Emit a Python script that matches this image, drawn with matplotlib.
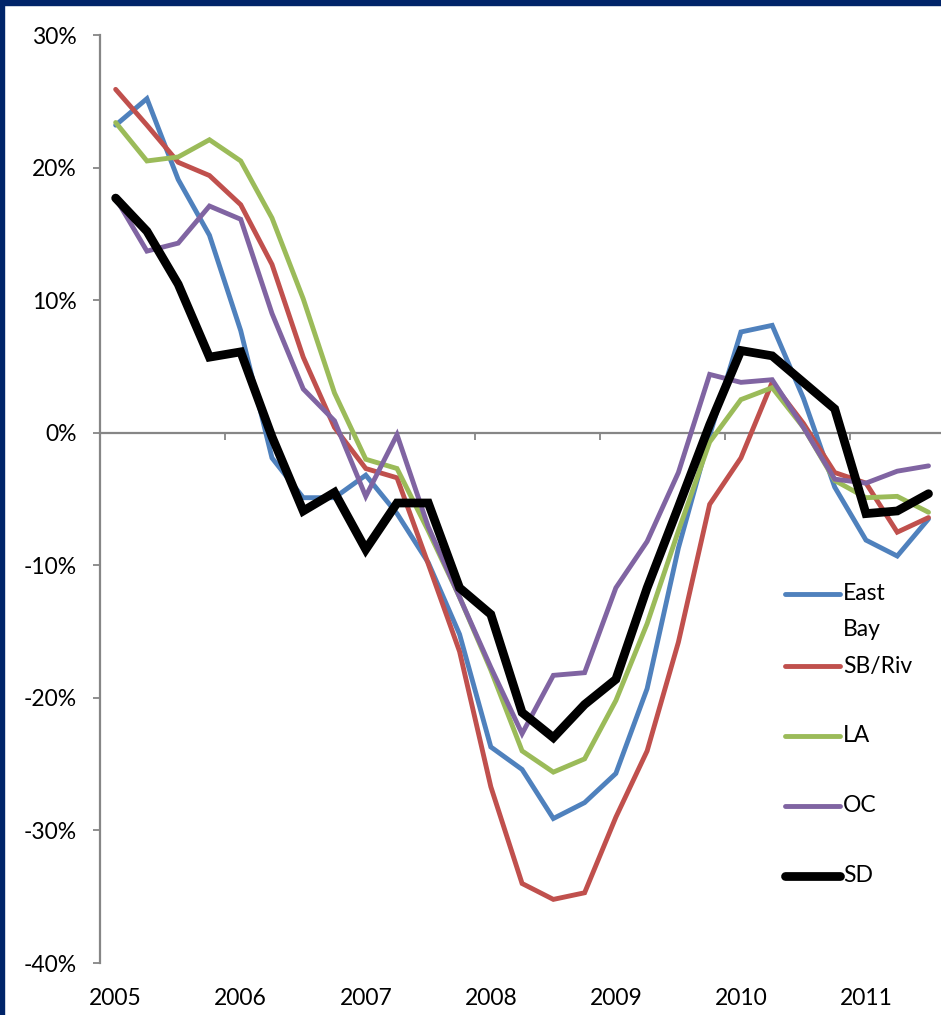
import matplotlib.pyplot as plt
from matplotlib.patches import Rectangle
from matplotlib.lines import Line2D
import matplotlib.transforms as mtransforms

plt.rcParams['font.family'] = ['Lato', 'DejaVu Sans']

# quarterly year-over-year price change, 2005 Q1 .. 2011 Q3 (percent)
years = ['2005', '2006', '2007', '2008', '2009', '2010', '2011']
east_bay = [23.2, 25.2, 19.1, 14.9, 7.7, -1.9, -4.9, -4.9, -3.2, -6.1, -9.8, -15.2, -23.7, -25.4,
            -29.1, -27.9, -25.7, -19.3, -8.7, -0.2, 7.6, 8.1, 2.6, -4.1, -8.1, -9.3, -6.5]
sb_riv = [25.9, 23.2, 20.4, 19.4, 17.2, 12.7, 5.7, 0.4, -2.7, -3.4, -9.9, -16.5, -26.7, -34.0,
          -35.2, -34.7, -29.0, -24.0, -15.8, -5.4, -1.9, 3.8, 0.7, -3.0, -3.8, -7.5, -6.4]
la = [23.4, 20.5, 20.8, 22.1, 20.5, 16.2, 10.1, 3.0, -2.0, -2.7, -7.4, -12.4, -17.9, -24.0,
      -25.6, -24.6, -20.2, -14.4, -7.4, -0.7, 2.5, 3.4, 0.4, -3.6, -4.9, -4.8, -6.0]
oc = [17.7, 13.7, 14.3, 17.1, 16.1, 9.0, 3.3, 0.9, -4.8, -0.15, -7.1, -12.4, -17.7, -22.7,
      -18.3, -18.1, -11.7, -8.2, -3.0, 4.4, 3.8, 4.0, 0.4, -3.5, -3.8, -2.9, -2.5]
sd = [17.7, 15.2, 11.2, 5.7, 6.1, -0.3, -5.9, -4.5, -8.8, -5.3, -5.3, -11.7, -13.7, -21.1,
      -23.0, -20.5, -18.6, -11.7, -5.6, 0.6, 6.2, 5.8, 3.8, 1.8, -6.1, -5.9, -4.6]
y_ticks = [30, 20, 10, 0, -10, -20, -30, -40]

W, H = 941, 1015
fig = plt.figure(figsize=(W / 100, H / 100), dpi=100)
ax = fig.add_axes([0.1063, 0.0512, 0.8937, 0.9143])

x = list(range(len(sd)))
series = [
    ('East\nBay', east_bay, '#4F81BD', 3.5),
    ('SB/Riv', sb_riv, '#C0504D', 3.5),
    ('LA', la, '#9BBB59', 3.5),
    ('OC', oc, '#8064A2', 3.5),
    ('SD', sd, '#000000', 6.3),
]
for name, vals, color, lw in series:
    ax.plot(x, vals, color=color, lw=lw, solid_capstyle='round',
            solid_joinstyle='miter', zorder=3)

ax.set_xlim(-0.5, 26.4)
ax.set_ylim(-40, 30)

grey = '#868686'
for side in ['top', 'right']:
    ax.spines[side].set_visible(False)
ax.spines['left'].set_color(grey)
ax.spines['left'].set_linewidth(1.6)
ax.spines['bottom'].set_position(('data', 0))
ax.spines['bottom'].set_color(grey)
ax.spines['bottom'].set_linewidth(1.6)

ax.set_yticks(y_ticks)
ax.set_yticklabels([f'{v}%' for v in y_ticks])
ax.tick_params(axis='y', direction='out', length=5, width=1.3, color=grey,
               pad=12, labelsize=16.5)

# year boundaries on the zero line, labels along the bottom
ax.set_xticks([4 * i + 3.5 for i in range(len(years) - 1)])
ax.set_xticklabels([])
ax.tick_params(axis='x', direction='out', length=5, width=1.3, color=grey)
trans = mtransforms.blended_transform_factory(ax.transData, ax.transAxes)
for i, yr in enumerate(years):
    ax.text(4 * i, -0.038, yr, transform=trans, ha='center', va='center',
            fontsize=16.5, color='black')

# legend: short line plus label, first label wraps onto two lines
row_y = [594, 666, 736, 806, 876]
for (name, vals, color, lw), ry in zip(series, row_y):
    yf = 1 - ry / H
    fig.add_artist(Line2D([785 / W, 840 / W], [yf, yf], color=color, lw=lw,
                          solid_capstyle='round', transform=fig.transFigure))
    for k, part in enumerate(name.split('\n')):
        fig.text(843 / W, 1 - (ry + 36 * k) / H, part, fontsize=16.5,
                 ha='left', va='center')

# navy frame strips
navy = '#002469'
fig.patches.append(Rectangle((0, 1 - 5 / H), 1, 5 / H, transform=fig.transFigure,
                             color=navy, zorder=10))
fig.patches.append(Rectangle((0, 0), 4 / W, 1, transform=fig.transFigure,
                             color=navy, zorder=10))

plt.savefig('out.png', dpi=100)
